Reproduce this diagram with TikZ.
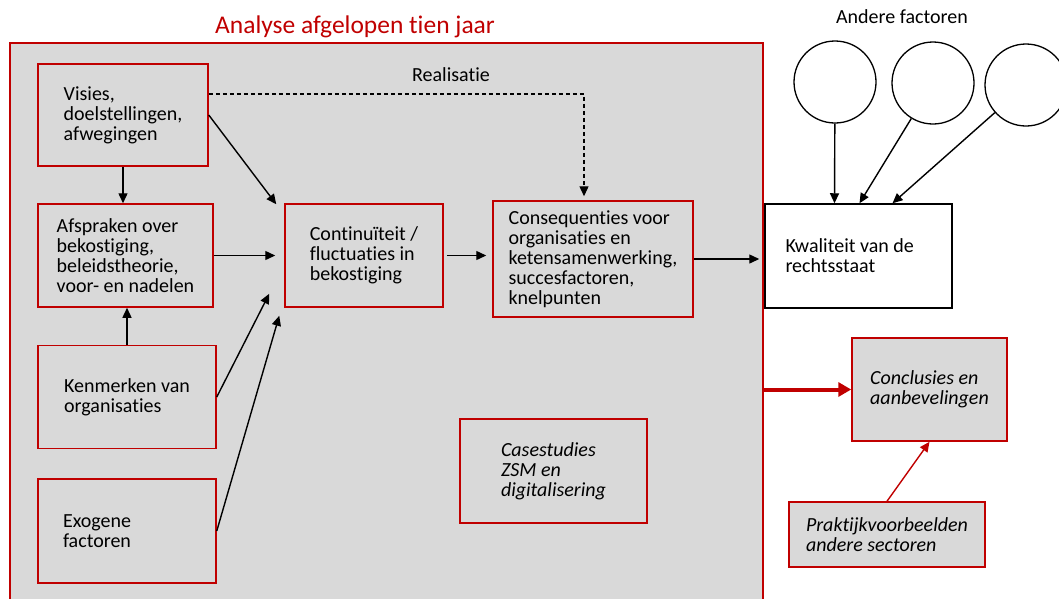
\documentclass[tikz,border=0pt]{standalone}
\usepackage{fontspec}
\setmainfont{Carlito}[RawFeature={-liga;-clig;-dlig;-calt}]
\usetikzlibrary{arrows.meta}
\definecolor{framered}{RGB}{192,0,0}
\definecolor{boxgray}{RGB}{217,217,217}

\begin{document}
\begin{tikzpicture}[x=1pt,y=-1pt,>={Triangle[length=10pt,width=9pt]},line width=1.4pt,
    font=\fontsize{20}{20}\selectfont,
    box/.style={draw=framered,fill=boxgray,line width=1.5pt,align=left,inner sep=0pt},
    white box/.style={draw=black,fill=white,line width=1.5pt,align=left,inner sep=0pt},
    factor/.style={circle,draw,fill=white,minimum size=82pt,line width=1.3pt}]

            \useasboundingbox (0,0) rectangle (1059,598);
            \clip (0,0) rectangle (1059,598);

            \node[draw=framered, fill=boxgray, line width=2.5pt, minimum width=753, minimum height=580] (0) at (386.5,333) {};
            \node[text=framered, font=\fontsize{25.5}{26}\selectfont] (title) at (355,27) {Analyse afgelopen tien jaar};

            \node[box, minimum width=170, minimum height=102] (1) at (123,115) {Visies,\\doelstellingen,\\afwegingen};
            \node[box, minimum width=175, minimum height=103] (2) at (125.5,255.5) {Afspraken over\\bekostiging,\\beleidstheorie,\\voor- en nadelen};
            \node[box, minimum width=178, minimum height=103] (3) at (127,397) {Kenmerken van\\organisaties};
            \node[box, minimum width=178, minimum height=104, text width=128, align=flush left] (4) at (127,531) {Exogene\\factoren};
            \node[box, minimum width=158, minimum height=103] (5) at (364,255.5) {Continuïteit /\\fluctuaties in\\bekostiging};
            \node[box, minimum width=200, minimum height=116] (6) at (593,259) {Consequenties voor\\organisaties en\\ketensamenwerking,\\succesfactoren,\\knelpunten};
            \node[box, minimum width=187, minimum height=104] (13) at (553.5,471) {\itshape Casestudies\\\itshape ZSM en\\\itshape digitalisering};
            \node (real) at (451,75) {Realisatie};

            \node[white box, minimum width=187, minimum height=104, text width=146, align=flush left] (7) at (858.5,256) {Kwaliteit van de\\rechtsstaat};
            \node (andere) at (902,17) {Andere factoren};
            \node[factor] (8) at (835,82) {};
            \node[factor] (9) at (933,83) {};
            \node[factor] (10) at (1026,85) {};

            \node[box, minimum width=155, minimum height=103] (11) at (929.5,389.5) {\itshape Conclusies en\\\itshape aanbevelingen};
            \node[box, minimum width=196, minimum height=65] (12) at (887,534.5) {\itshape Praktijkvoorbeelden\\\itshape andere sectoren};

            \draw[->] (1.south) to (1.south |- 2.north);
            \draw[->] (3.north) to (3.north |- 2.south);
            \draw[->] (1.east) to ([shift={(-8,1)}]5.north west);
            \draw[->] (2.east) to ([xshift=-9pt]5.west);
            \draw[->] (3.east) to ([shift={(-15,-14)}]5.south west);
            \draw[->] (4.east) to ([shift={(-5,8)}]5.south west);
            \draw[->, shorten <=3pt, shorten >=6pt] (5.east) to (5.east -| 6.west);
            \draw[->, shorten >=5pt] (6.east) to (6.east -| 7.west);
            \draw[->, dash pattern=on 4pt off 3pt] ([yshift=21pt]1.east) -| ([shift={(-9,-4)}]6.north);

            \draw[->] (8) to ([xshift=-24pt]7.north);
            \draw[->] (9) to ([xshift=1pt]7.north);
            \draw[->] (10) to ([xshift=34pt]7.north);

            \draw[-{Triangle[length=13pt,width=14pt]}, framered, line width=4pt] (0.east |- 11.west) to (11.west);
            \draw[->, framered] (12.north) to (11.south);

        \end{tikzpicture}
\end{document}
